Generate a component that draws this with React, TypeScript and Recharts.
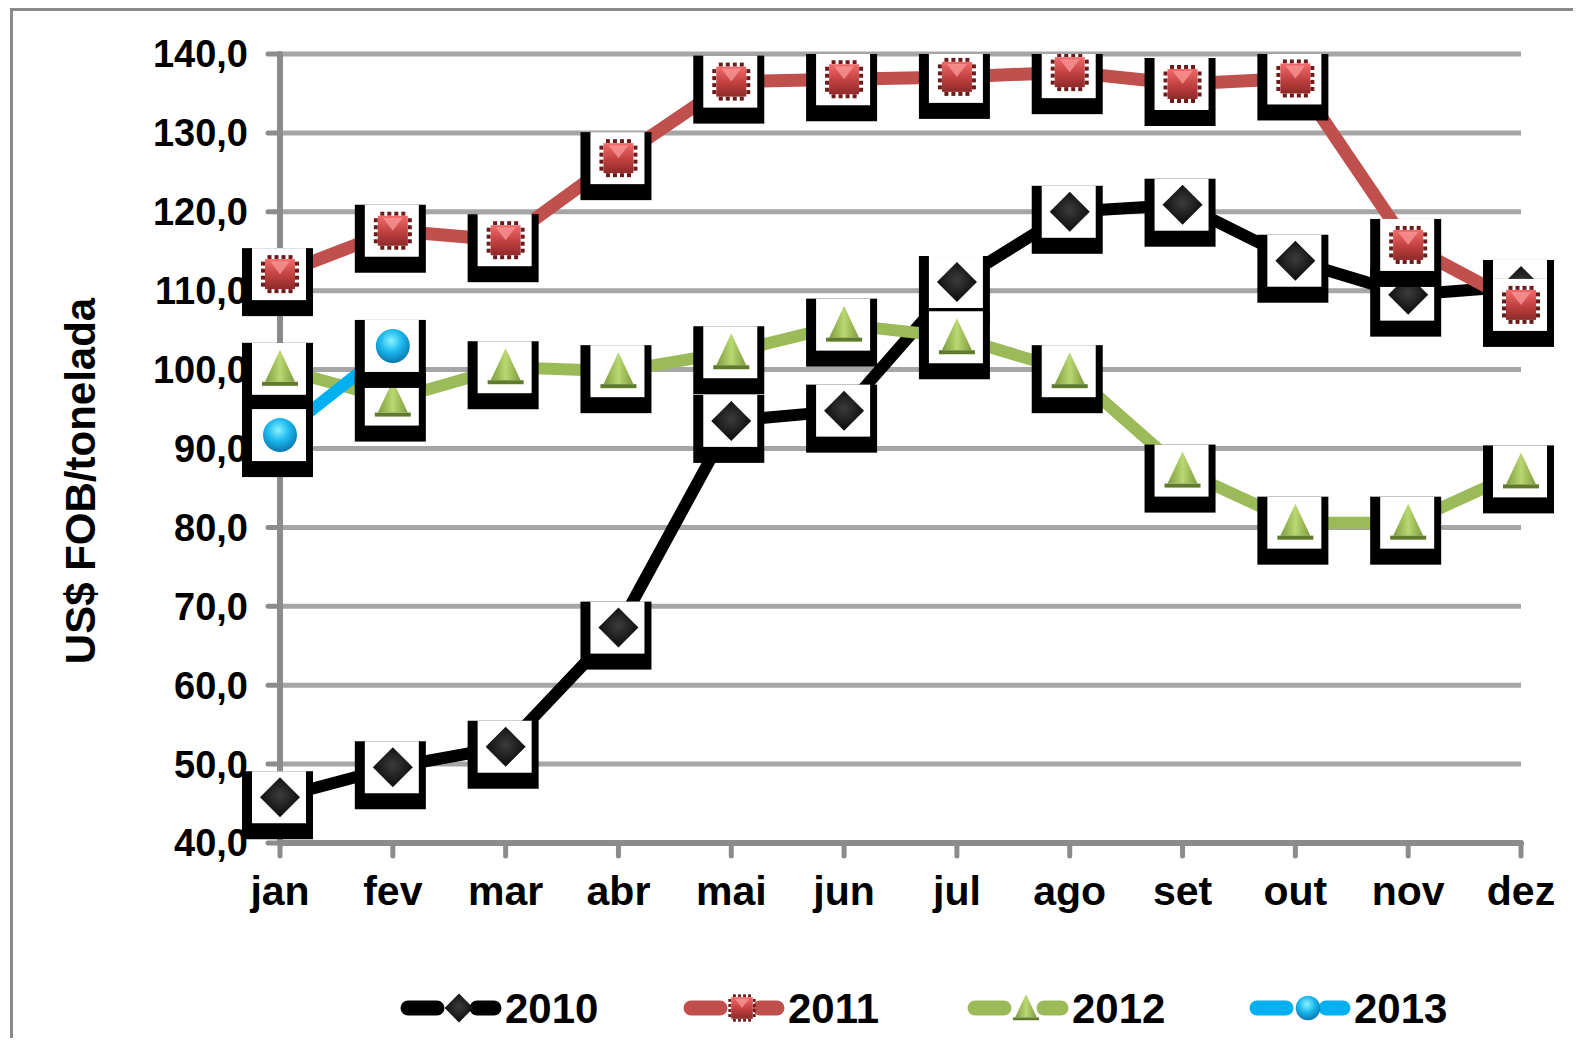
import React from 'react';
import { LineChart, Line, XAxis, YAxis, CartesianGrid } from 'recharts';

const months = ['jan', 'fev', 'mar', 'abr', 'mai', 'jun', 'jul', 'ago', 'set', 'out', 'nov', 'dez'];
const y2010 = [45.8, 49.6, 52.2, 67.3, 93.5, 94.8, 111.1, 120.0, 120.9, 113.8, 109.5, 110.6];
const y2011 = [112.1, 117.6, 116.4, 126.8, 136.5, 136.8, 137.1, 137.7, 136.2, 136.9, 115.8, 108.2];
const y2012 = [100.1, 96.2, 100.3, 99.8, 102.2, 105.7, 104.1, 99.8, 87.2, 80.6, 80.6, 87.1];
const y2013 = [91.7, 103.0];
const yTicks = [40, 50, 60, 70, 80, 90, 100, 110, 120, 130, 140];

const series = [
  { key: 'y2010', name: '2010', color: '#000000', shape: 'diamond', width: 12 },
  { key: 'y2011', name: '2011', color: '#C0504D', shape: 'square', width: 13 },
  { key: 'y2012', name: '2012', color: '#9BBB59', shape: 'triangle', width: 12 },
  { key: 'y2013', name: '2013', color: '#00B0F0', shape: 'circle', width: 12 },
];

const data = months.map((m, i) => ({
  month: m,
  y2010: y2010[i],
  y2011: y2011[i],
  y2012: y2012[i],
  y2013: i < y2013.length ? y2013[i] : null,
}));

const FONT = '"Liberation Sans", Arial, sans-serif';
const AXIS = '#8c8c8c';

const Marker = ({ shape, cx, cy, s = 1 }: { shape: string; cx: number; cy: number; s?: number }) => {
  if (shape === 'diamond') {
    return (
      <polygon
        points={`${cx},${cy - 20 * s} ${cx + 20 * s},${cy} ${cx},${cy + 20 * s} ${cx - 20 * s},${cy}`}
        fill="url(#gDiamond)"
      />
    );
  }
  if (shape === 'square') {
    const h = 15 * s;
    const notches = [-10.5, -3.5, 3.5, 10.5];
    return (
      <g>
        {notches.map((o) => (
          <g key={o}>
            <rect x={cx + o * s - 2 * s} y={cy - h - 4 * s} width={4 * s} height={4 * s} fill="#6B1B1B" />
            <rect x={cx + o * s - 2 * s} y={cy + h} width={4 * s} height={4 * s} fill="#6B1B1B" />
            <rect x={cx - h - 4 * s} y={cy + o * s - 2 * s} width={4 * s} height={4 * s} fill="#6B1B1B" />
            <rect x={cx + h} y={cy + o * s - 2 * s} width={4 * s} height={4 * s} fill="#6B1B1B" />
          </g>
        ))}
        <rect x={cx - h} y={cy - h} width={2 * h} height={2 * h} fill="url(#gRed)" />
        <polygon
          points={`${cx - 10 * s},${cy - 13 * s} ${cx + 10 * s},${cy - 13 * s} ${cx},${cy}`}
          fill="#F79494"
          opacity={0.8}
        />
      </g>
    );
  }
  if (shape === 'triangle') {
    return (
      <g>
        <polygon
          points={`${cx},${cy - 19 * s} ${cx + 15 * s},${cy + 13 * s} ${cx - 15 * s},${cy + 13 * s}`}
          fill="url(#gGreen)"
        />
        <rect x={cx - 18 * s} y={cy + 13 * s} width={36 * s} height={4 * s} fill="#5F7A2B" />
      </g>
    );
  }
  return <circle cx={cx} cy={cy} r={17 * s} fill="url(#gBlue)" />;
};

const makeDot = (shape: string) => (props: any) => {
  const { cx, cy, index } = props;
  if (cx == null || cy == null || isNaN(cy)) return <g key={`${shape}-${index}`} />;
  return (
    <g key={`${shape}-${index}`}>
      <rect x={cx - 38} y={cy - 26} width={71} height={68} fill="#000" />
      <rect x={cx - 28} y={cy - 26} width={54} height={52} fill="#fff" />
      <Marker shape={shape} cx={cx} cy={cy} />
    </g>
  );
};

const YTitle = () => (
  <text
    x={72}
    y={473}
    transform="rotate(-90, 72, 473)"
    textAnchor="middle"
    dominantBaseline="central"
    fontFamily={FONT}
    fontWeight="bold"
    fontSize={42}
    fill="#000"
  >
    US$ FOB/tonelada
  </text>
);

const legendX = [393, 676, 960, 1242];

const Legend = () => (
  <svg width={1573} height={60} style={{ position: 'absolute', left: 0, top: 970 }}>
    {series.map((s, i) => {
      const x = legendX[i];
      return (
        <g key={s.key}>
          <line x1={x + 7} y1={30} x2={x + 36} y2={30} stroke={s.color} strokeWidth={15} strokeLinecap="round" />
          <line x1={x + 76} y1={30} x2={x + 93} y2={30} stroke={s.color} strokeWidth={15} strokeLinecap="round" />
          <Marker shape={s.shape} cx={x + 58} cy={30} s={0.72} />
          <text x={x + 104} y={30} dy="0.36em" fontFamily={FONT} fontWeight="bold" fontSize={42} fill="#000">
            {s.name}
          </text>
        </g>
      );
    })}
  </svg>
);

export default function App() {
  return (
    <div style={{ position: 'relative', width: 1573, height: 1038, marginBottom: -8, overflow: 'hidden' }}>
      <div
        style={{
          position: 'absolute',
          left: 2,
          top: 0,
          width: 1567,
          height: 1070,
          border: '3px solid #8a8a8a',
          boxSizing: 'border-box',
        }}
      />
      <div style={{ position: 'absolute', left: 0, top: 0 }}>
        <LineChart width={1565} height={1030} data={data} margin={{ top: 46, right: 52, left: 0, bottom: 115 }}>
          <defs>
            <radialGradient id="gDiamond" cx="0.5" cy="0.45" r="0.6">
              <stop offset="0%" stopColor="#3c3c3c" />
              <stop offset="100%" stopColor="#050505" />
            </radialGradient>
            <linearGradient id="gRed" x1="0" y1="0" x2="0" y2="1">
              <stop offset="0%" stopColor="#F26B6B" />
              <stop offset="55%" stopColor="#C0403F" />
              <stop offset="100%" stopColor="#8E2A2A" />
            </linearGradient>
            <linearGradient id="gGreen" x1="0" y1="0" x2="1" y2="0">
              <stop offset="0%" stopColor="#7E9C3E" />
              <stop offset="50%" stopColor="#B9D871" />
              <stop offset="100%" stopColor="#7E9C3E" />
            </linearGradient>
            <radialGradient id="gBlue" cx="0.45" cy="0.35" r="0.65">
              <stop offset="0%" stopColor="#8BF2FF" />
              <stop offset="50%" stopColor="#1CB9EE" />
              <stop offset="100%" stopColor="#0A78B0" />
            </radialGradient>
          </defs>
          <CartesianGrid vertical={false} stroke="#a6a6a6" strokeWidth={5} />
          <XAxis
            dataKey="month"
            height={80}
            interval={0}
            padding={{ left: 0, right: 0 }}
            axisLine={{ stroke: AXIS, strokeWidth: 6, strokeLinecap: 'round' }}
            tickLine={{ stroke: AXIS, strokeWidth: 5, strokeLinecap: 'round' }}
            tickSize={13}
            tickMargin={20}
            tick={{ fill: '#000', fontSize: 41, fontWeight: 'bold', fontFamily: FONT }}
          />
          <YAxis
            width={272}
            domain={[40, 140]}
            ticks={yTicks}
            interval={0}
            allowDataOverflow
            tickFormatter={(v: number) => `${v},0`}
            axisLine={{ stroke: AXIS, strokeWidth: 6, strokeLinecap: 'round' }}
            tickLine={{ stroke: AXIS, strokeWidth: 5, strokeLinecap: 'round' }}
            tickSize={12}
            tickMargin={20}
            tick={{ fill: '#000', fontSize: 38, fontWeight: 'bold', fontFamily: FONT }}
            label={YTitle}
          />
          {series.map((s) => (
            <Line
              key={s.key}
              type="linear"
              dataKey={s.key}
              name={s.name}
              stroke={s.color}
              strokeWidth={s.width}
              strokeLinejoin="round"
              dot={makeDot(s.shape)}
              activeDot={false}
              isAnimationActive={false}
            />
          ))}
        </LineChart>
      </div>
      <Legend />
    </div>
  );
}
